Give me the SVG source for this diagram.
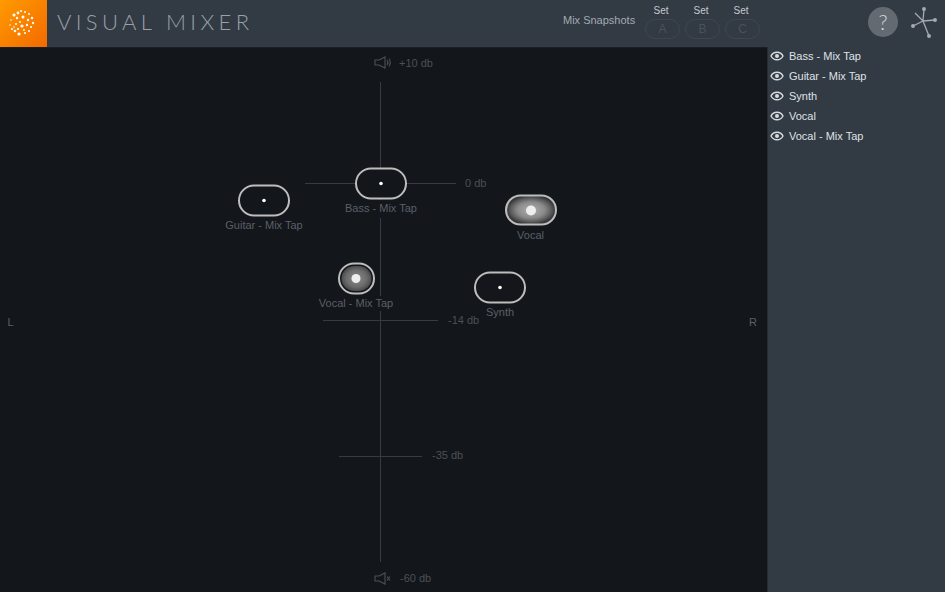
<svg xmlns="http://www.w3.org/2000/svg" width="945" height="592" viewBox="0 0 945 592">
<defs>
<linearGradient id="org" x1="0" y1="0" x2="1" y2="1"><stop offset="0" stop-color="#ff9a00"/><stop offset="1" stop-color="#f26a00"/></linearGradient>
<radialGradient id="glowW" cx="0.5" cy="0.5" r="0.5"><stop offset="0" stop-color="#b0b0b0"/><stop offset="0.55" stop-color="#8a8a8a"/><stop offset="0.8" stop-color="#5e5e5e"/><stop offset="1" stop-color="#333538"/></radialGradient>
<radialGradient id="glowR"><stop offset="0" stop-color="#8c8c8c"/><stop offset="0.7" stop-color="#6a6a6a"/><stop offset="1" stop-color="#4a4b4d"/></radialGradient>
<g id="eye"><path d="M-6 0C-3.500-5 3.500-5 6 0C3.500 5-3.500 5-6 0Z" fill="none" stroke="#d8dce0" stroke-width="1.400"/><circle r="2" fill="#d8dce0"/></g>
</defs>
<style>
text{font-family:"Liberation Sans",Arial,sans-serif}
.lbl{font-size:11px;fill:#5a6068;text-anchor:middle}
.db{font-size:11px;fill:#4b5058}
.ln{stroke:#363c45;stroke-width:1;fill:none}
.pill{fill:#13161b;stroke:#bdbdbd;stroke-width:2}
.dot{fill:#fff}
.list{font-size:11px;fill:#dfe2e6}
.set{font-size:10px;fill:#c5c9ce;text-anchor:middle}
.snap{fill:none;stroke:#3f4650;stroke-width:1}
.snapt{font-size:12px;fill:#4a515b;text-anchor:middle}
.spk{fill:none;stroke:#4b5058;stroke-width:1.100}
</style>
<rect width="945" height="592" fill="#13161b"/>
<rect id="header" width="945" height="47" fill="#323a44"/>
<rect y="47" width="768" height="1" fill="#1b1e24"/>
<rect x="0" width="47" height="47" fill="url(#org)"/>
<g id="logo" fill="#fff">
<circle cx="14" cy="15" r="1.600"/><circle cx="18" cy="13" r="1.400"/><circle cx="21" cy="11" r="1"/><circle cx="25" cy="12" r="1"/><circle cx="29" cy="14" r="1"/><circle cx="32" cy="18" r="1.200"/><circle cx="33" cy="23" r="1.200"/><circle cx="31" cy="27" r="1"/><circle cx="29" cy="31" r="1"/><circle cx="25" cy="33" r="1.100"/><circle cx="19" cy="34" r="1.600"/><circle cx="15" cy="31" r="1.300"/><circle cx="12" cy="29" r="1.100"/><circle cx="10" cy="25" r=".8"/><circle cx="11" cy="20" r=".8"/><circle cx="17" cy="18" r="1.200"/><circle cx="23" cy="17" r="1.500"/><circle cx="28" cy="20" r="1.200"/><circle cx="22" cy="26" r="1.600"/><circle cx="27" cy="25" r="1.200"/><circle cx="16" cy="24" r="1"/><circle cx="20" cy="22" r=".9"/><circle cx="18" cy="29" r="1.100"/><circle cx="24" cy="30" r=".9"/><circle cx="14" cy="27" r=".8"/>
</g>
<text x="57" y="30" font-size="22" fill="#98a0a9" textLength="192" style="font-family:Lato,sans-serif;font-weight:300">VISUAL MIXER</text>
<text x="563" y="23.500" font-size="11" fill="#a4aab2">Mix Snapshots</text>
<g id="snapshots">
<text class="set" x="661" y="13.500">Set</text><text class="set" x="701" y="13.500">Set</text><text class="set" x="741" y="13.500">Set</text>
<rect class="snap" x="645.500" y="19.500" width="34" height="19" rx="9.500"/><rect class="snap" x="685.500" y="19.500" width="34" height="19" rx="9.500"/><rect class="snap" x="725.500" y="19.500" width="34" height="19" rx="9.500"/>
<text class="snapt" x="662.500" y="33">A</text><text class="snapt" x="702.500" y="33">B</text><text class="snapt" x="742.500" y="33">C</text>
</g>
<g id="help"><circle cx="883" cy="22" r="15" fill="#636a72"/><text x="883" y="29.500" font-size="21" fill="#d5d8db" text-anchor="middle" style="font-family:Lato,sans-serif;font-weight:300">?</text></g>
<g id="mix-icon" stroke="#a4aab2" stroke-width="1.300" fill="#a4aab2"><path d="M923 21L924 9M923 21L935 20M923 21L913 26M923 21L929 36M923 21L915 13" fill="none"/><circle cx="924" cy="9" r="1.300"/><circle cx="935" cy="20" r="1.300"/><circle cx="913" cy="26" r="1.300"/><circle cx="929" cy="36" r="1.300"/></g>
<g id="sidebar"><rect x="768" y="47" width="177" height="545" fill="#323a44"/><rect x="767" y="47" width="1" height="545" fill="#262b32"/>
<use href="#eye" x="777" y="56"/><text class="list" x="789" y="60">Bass - Mix Tap</text>
<use href="#eye" x="777" y="76"/><text class="list" x="789" y="80">Guitar - Mix Tap</text>
<use href="#eye" x="777" y="96"/><text class="list" x="789" y="100">Synth</text>
<use href="#eye" x="777" y="116"/><text class="list" x="789" y="120">Vocal</text>
<use href="#eye" x="777" y="136"/><text class="list" x="789" y="140">Vocal - Mix Tap</text>
</g>
<g id="connectors">
<path class="ln" d="M380.500 82V562"/>
<path class="ln" d="M305 183.500H456M323 320.500H438M339 456.500H422"/>
</g>
<g id="scale">
<path class="spk" d="M375 60H379L385 57V68L379 65H375Z"/><path class="spk" d="M387 60Q389 62.500 387 65M389 58.500Q391.500 62.500 389 66.500"/>
<text class="db" x="399" y="66.500">+10 db</text>
<text class="db" x="465" y="186.500">0 db</text>
<text class="db" x="448" y="323.500">-14 db</text>
<text class="db" x="432" y="459">-35 db</text>
<path class="spk" d="M375 576H379L385 573V584L379 581H375Z"/><path class="spk" d="M387 576.500L390 580.500M390 576.500L387 580.500"/>
<text class="db" x="400" y="582">-60 db</text>
<text class="lbl" x="10.500" y="325.500">L</text>
<text class="lbl" x="753" y="325.500">R</text>
</g>
<rect x="340" y="200" width="82" height="18" fill="#13161b"/>
<rect x="320" y="296" width="74" height="15" fill="#13161b"/>
<g id="guitar"><rect class="pill" x="239" y="185.500" width="50" height="30" rx="15"/><circle class="dot" cx="264" cy="200.500" r="1.800"/><text class="lbl" x="264" y="229">Guitar - Mix Tap</text></g>
<g id="bass"><rect class="pill" x="356" y="168.500" width="50" height="30" rx="15"/><circle class="dot" cx="381" cy="183.500" r="1.800"/><text class="lbl" x="381" y="212">Bass - Mix Tap</text></g>
<g id="vocal"><rect x="506" y="195.500" width="50" height="29" rx="14.500" fill="url(#glowW)" stroke="#bdbdbd" stroke-width="2"/><circle cx="531" cy="210.500" r="5" fill="#eee"/><text class="lbl" x="530.500" y="239">Vocal</text></g>
<g id="vocal-mix-tap"><rect x="339" y="263.500" width="35" height="30" rx="15" fill="#13161b" stroke="#bdbdbd" stroke-width="2"/><rect x="341.500" y="266" width="30" height="25" rx="12.500" fill="url(#glowR)"/><circle cx="356" cy="278.500" r="4.500" fill="#eee"/><text class="lbl" x="356" y="307">Vocal - Mix Tap</text></g>
<g id="synth"><rect class="pill" x="475" y="272.500" width="50" height="30" rx="15"/><circle class="dot" cx="500" cy="287.500" r="1.800"/><text class="lbl" x="500" y="316">Synth</text></g>
</svg>
